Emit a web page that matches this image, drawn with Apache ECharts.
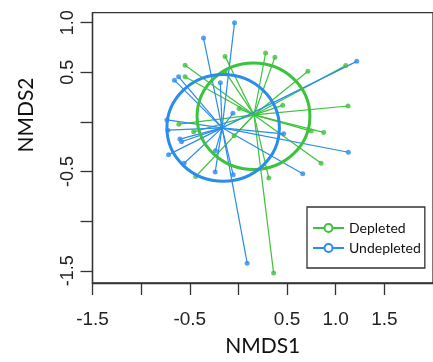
<!DOCTYPE html>
<html>
<head>
<meta charset="utf-8">
<script src="https://cdn.jsdelivr.net/npm/echarts@6.0.0/dist/echarts.min.js"></script>
<style>
  html, body { margin: 0; padding: 0; background: #fff; }
  #chart { width: 433px; height: 362px; }
</style>
</head>
<body>
<div id="chart"></div>
<script>
const GROUPS = ['Depleted', 'Undepleted'];
const GREEN = '#3cc23c';
const BLUE = '#2a8ceb';

// site scores
const depletedX = [-0.548, -0.548, -0.137, -0.137, 0.279, 0.375, 0.714, 1.103, 1.127, 0.455,
  0.006, -0.044, -0.613, -0.46, 0.748, 0.877, 0.85, 0.312, -0.439, 0.362];
const depletedY = [0.57, 0.454, 0.66, 0.507, 0.694, 0.65, 0.51, 0.567, 0.16, 0.167,
  0.134, -0.14, -0.023, -0.10, -0.093, -0.106, -0.416, -0.566, -0.55, -1.523];
const undepletedX = [-0.04, -0.359, -0.615, -0.658, -0.186, 1.216, -0.057, -0.735, -0.725, -0.602,
  -0.585, -0.718, -0.558, -0.239, -0.236, -0.054, 0.465, 1.13, 0.661, 0.09];
const undepletedY = [1.0, 0.844, 0.454, 0.42, 0.394, 0.61, 0.087, 0.02, -0.083, -0.173,
  -0.2, -0.33, -0.416, -0.506, -0.29, -0.533, -0.12, -0.306, -0.523, -1.423];

// group centroids (spider hubs)
const depletedCentroid = [0.16, 0.07];
const undepletedCentroid = [-0.168, -0.06];

// ellipses: [cx, cy, rx, ry]
const depletedEllipse = [0.155, 0.057, 0.58, 0.537];
const undepletedEllipse = [-0.157, -0.06, 0.578, 0.537];

const xTicks = [-1.5, -1.0, -0.5, 0.0, 0.5, 1.0, 1.5];
const xLabels = [-1.5, -0.5, 0.5, 1.0, 1.5];
const yTicks = [-1.5, -1.0, -0.5, 0.0, 0.5, 1.0];
const yLabels = [-1.5, -0.5, 0.5, 1.0];

const TICK_FONT = '"Liberation Sans", Arial, sans-serif';
const TITLE_FONT = 'Lato, "Noto Sans", sans-serif';

function spiderSeries(name, xs, ys, hub, color) {
  return xs.map((x, i) => ({
    type: 'line',
    name: name,
    data: [hub, [x, ys[i]]],
    symbol: 'emptyCircle',
    showSymbol: false,
    lineStyle: { color: color, width: 1.2 },
    itemStyle: { color: color },
    silent: true,
    animation: false,
    z: 2,
  }));
}

function pointSeries(name, xs, ys, color) {
  return {
    type: 'scatter',
    name: name + ' sites',
    data: xs.map((x, i) => [x, ys[i]]),
    symbol: 'circle',
    symbolSize: 5,
    itemStyle: { color: color },
    silent: true,
    z: 3,
  };
}

function ellipseSeries(name, ellipse, color) {
  return {
    type: 'custom',
    name: name + ' ellipse',
    data: [ellipse],
    silent: true,
    z: 4,
    renderItem: (params, api) => {
      const c = api.coord([api.value(0), api.value(1)]);
      const s = api.size([api.value(2), api.value(3)]);
      return {
        type: 'ellipse',
        shape: { cx: c[0], cy: c[1], rx: s[0], ry: s[1] },
        style: { fill: 'none', stroke: color, lineWidth: 3 },
      };
    },
  };
}

const chart = echarts.init(document.getElementById('chart'), null, { renderer: 'canvas' });

chart.setOption({
  animation: false,
  backgroundColor: '#fff',
  grid: {
    left: 92.5,
    top: 12.7,
    width: 350.6,
    height: 272.3,
    show: true,
    borderColor: '#333',
    borderWidth: 1.3,
  },
  legend: {
    data: GROUPS,
    orient: 'vertical',
    left: 307,
    top: 207,
    padding: [11, 4, 10, 5],
    borderColor: '#333',
    borderWidth: 1.3,
    itemWidth: 31,
    itemHeight: 10,
    itemGap: 0,
    selectedMode: false,
    textStyle: { fontFamily: TITLE_FONT, fontSize: 14, lineHeight: 20, color: '#111' },
  },
  xAxis: {
    type: 'value',
    min: -1.5,
    max: 2.0,
    interval: 0.5,
    name: 'NMDS1',
    nameLocation: 'middle',
    nameGap: 53,
    nameTextStyle: { fontFamily: TITLE_FONT, fontSize: 21, color: '#111' },
    axisLine: { show: true, onZero: false, lineStyle: { color: '#333', width: 1.3 } },
    axisTick: { show: true, length: 12, lineStyle: { color: '#333', width: 1.3 }, customValues: xTicks },
    axisLabel: {
      customValues: xLabels,
      margin: 27,
      fontFamily: TICK_FONT,
      fontSize: 19,
      color: '#222',
      formatter: (v) => v.toFixed(1),
    },
    splitLine: { show: false },
  },
  yAxis: {
    type: 'value',
    min: -1.623,
    max: 1.1,
    axisLine: { show: true, onZero: false, lineStyle: { color: '#333', width: 1.3 } },
    axisTick: { show: true, length: 12, lineStyle: { color: '#333', width: 1.3 }, customValues: yTicks },
    axisLabel: {
      customValues: yLabels,
      rotate: 90,
      margin: 15,
      fontFamily: TICK_FONT,
      fontSize: 18,
      color: '#222',
      formatter: (v) => v.toFixed(1),
    },
    splitLine: { show: false },
  },
  graphic: [
    {
      type: 'text',
      x: 26,
      y: 115,
      rotation: Math.PI / 2,
      style: {
        text: 'NMDS2',
        fontFamily: TITLE_FONT,
        fontSize: 21,
        fill: '#111',
        align: 'center',
        verticalAlign: 'middle',
      },
    },
  ],
  series: [
    ...spiderSeries(GROUPS[0], depletedX, depletedY, depletedCentroid, GREEN),
    ...spiderSeries(GROUPS[1], undepletedX, undepletedY, undepletedCentroid, BLUE),
    pointSeries(GROUPS[0], depletedX, depletedY, GREEN),
    pointSeries(GROUPS[1], undepletedX, undepletedY, BLUE),
    ellipseSeries(GROUPS[0], depletedEllipse, GREEN),
    ellipseSeries(GROUPS[1], undepletedEllipse, BLUE),
  ],
});
</script>
</body>
</html>
